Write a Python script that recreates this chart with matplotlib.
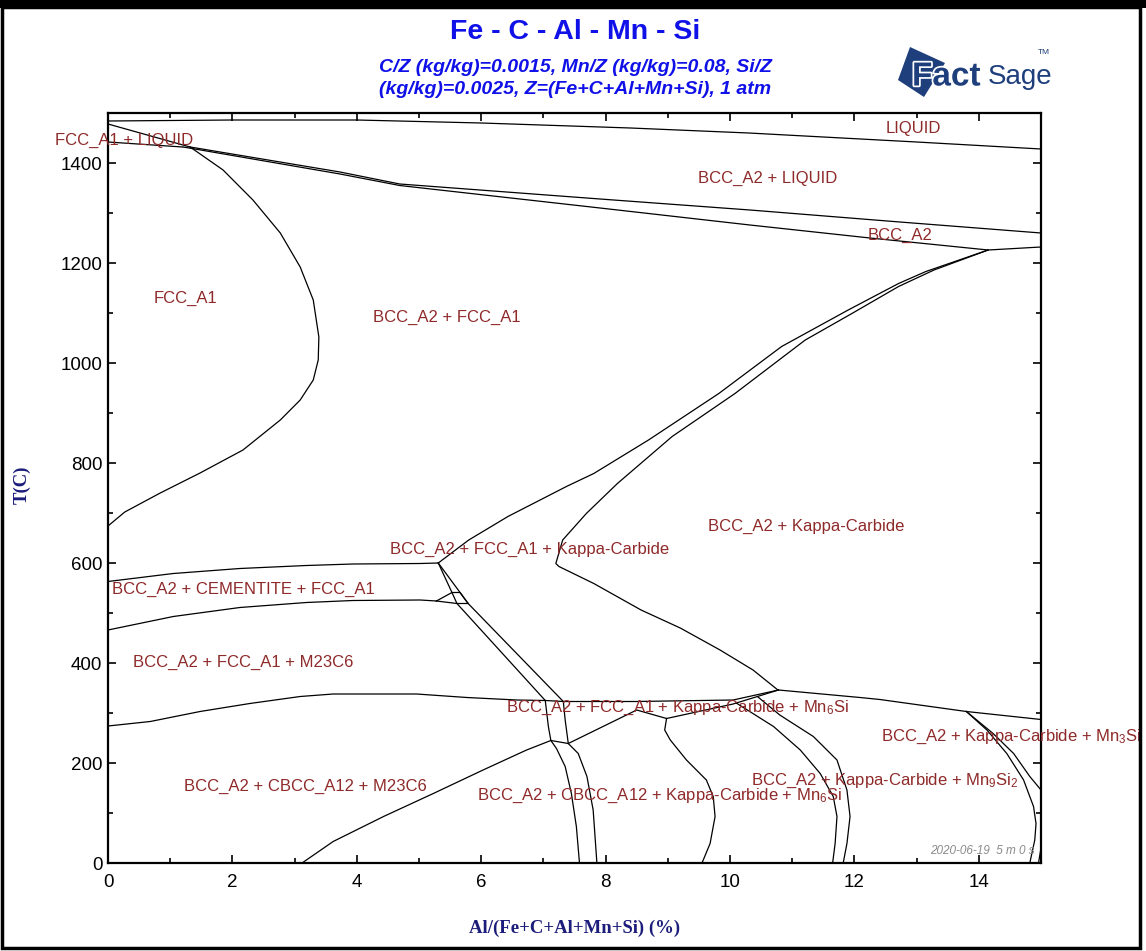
import matplotlib
matplotlib.use("Agg")
import matplotlib.pyplot as plt
from matplotlib.patches import Polygon, Rectangle
import matplotlib.patheffects as pe

plt.rcParams['font.family'] = ['Liberation Sans', 'DejaVu Sans']
plt.rcParams['mathtext.fontset'] = 'custom'
plt.rcParams['mathtext.rm'] = 'Liberation Sans'
plt.rcParams['mathtext.it'] = 'Liberation Sans:italic'
plt.rcParams['mathtext.bf'] = 'Liberation Sans:bold'

# ---------------- data (x = Al %, T = degC) ----------------
liq_x = [0, 2, 4, 6, 8.4, 10.3, 13.0, 15]
liq_T = [1484, 1486, 1486, 1480, 1470, 1460, 1442, 1428]

fcc_l_upper_x = [0, 1.32]
fcc_l_upper_T = [1478, 1432]
fcc_l_lower_x = [0, 1.2]
fcc_l_lower_T = [1442, 1432]

lineA_x = [1.32, 3.73, 4.69, 7.91, 10.32, 12.73, 15]
lineA_T = [1432, 1382, 1358, 1328, 1306, 1282, 1260]
lineB_x = [1.21, 3.73, 4.69, 7.91, 10.32, 12.25, 14.15, 15]
lineB_T = [1432, 1378, 1355, 1310, 1276, 1250, 1226, 1232]

fcc_loop_x = [1.32, 1.85, 2.33, 2.77, 3.09, 3.30, 3.39, 3.38, 3.30, 3.09, 2.77, 2.17, 1.48, 0.84, 0.27, 0]
fcc_loop_T = [1432, 1386, 1326, 1260, 1192, 1126, 1052, 1006, 966, 926, 886, 826, 780, 740, 702, 674]

kap_up_x = [14.15, 13.15, 12.71, 11.90, 10.83, 9.82, 8.69, 7.81, 7.37, 6.43, 5.80, 5.31]
kap_up_T = [1226, 1183, 1159, 1106, 1033, 939, 846, 779, 753, 693, 646, 600]
kap_lo_x = [14.15, 13.28, 12.71, 11.96, 11.21, 10.08, 9.07, 8.19, 7.69, 7.31, 7.20, 7.25, 7.81, 8.57, 9.20, 9.84, 10.37, 10.77]
kap_lo_T = [1226, 1186, 1153, 1099, 1046, 939, 853, 759, 699, 646, 599, 593, 559, 506, 470, 426, 386, 346]

cem_up_x = [0, 1.05, 2.12, 3.19, 3.94, 5.02, 5.31]
cem_up_T = [563, 579, 589, 595, 598, 599, 600]
cem_lo_x = [0, 1.05, 2.12, 3.19, 3.94, 5.02, 5.28]
cem_lo_T = [466, 493, 511, 521, 525, 526, 524]

tri_a_x = [5.28, 5.53, 5.66, 5.79]
tri_a_T = [524, 541, 541, 519]
tri_b_x = [5.28, 5.61, 5.79]
tri_b_T = [524, 519, 519]

diag_l_x = [5.31, 5.53, 5.61, 7.03, 7.08, 7.12, 7.21, 7.35, 7.45, 7.53, 7.58]
diag_l_T = [600, 541, 519, 325, 273, 245, 229, 193, 139, 73, 0]
diag_r_x = [5.31, 5.66, 5.79, 7.32, 7.35, 7.40, 7.56, 7.70, 7.80, 7.86]
diag_r_T = [600, 541, 519, 323, 286, 239, 219, 173, 106, 0]

cbcc_x = [3.12, 3.62, 4.43, 5.23, 6.03, 6.73, 7.12, 7.40]
cbcc_T = [0, 43, 93, 139, 186, 226, 245, 239]

m23_x = [0, 0.68, 1.48, 2.28, 3.09, 3.62, 4.96, 5.77, 6.57, 7.03]
m23_T = [274, 283, 303, 319, 333, 338, 338, 331, 326, 325]

mid_up_x = [7.03, 7.32, 8.50, 10.05, 10.78]
mid_up_T = [325, 323, 323, 326, 346]
mid_lo_x = [7.40, 8.50, 8.98, 10.05, 10.78]
mid_lo_T = [239, 306, 289, 318, 346]

mn6_x = [8.98, 8.95, 9.04, 9.30, 9.62, 9.73, 9.76, 9.68, 9.55]
mn6_T = [289, 266, 246, 206, 166, 133, 93, 39, 0]

mn9a_x = [10.10, 10.70, 11.13, 11.45, 11.66, 11.72, 11.69, 11.65]
mn9a_T = [320, 273, 226, 179, 133, 93, 39, 0]
mn9b_x = [10.45, 10.80, 11.34, 11.72, 11.88, 11.93, 11.88, 11.82]
mn9b_T = [332, 296, 253, 206, 146, 93, 39, 0]

right_x = [10.78, 12.09, 12.41, 13.80, 15]
right_T = [346, 331, 327, 303, 287]
r1_x = [13.80, 14.13, 14.45, 14.72, 14.88, 14.92, 14.90, 14.82]
r1_T = [303, 266, 219, 166, 113, 79, 46, 0]
r2_x = [13.80, 14.23, 14.56, 14.82, 15.0]
r2_T = [303, 259, 219, 173, 146]
r3_x = [15.0, 14.96]
r3_T = [30, 0]

curves = [
    (liq_x, liq_T), (fcc_l_upper_x, fcc_l_upper_T), (fcc_l_lower_x, fcc_l_lower_T),
    (lineA_x, lineA_T), (lineB_x, lineB_T), (fcc_loop_x, fcc_loop_T),
    (kap_up_x, kap_up_T), (kap_lo_x, kap_lo_T), (cem_up_x, cem_up_T), (cem_lo_x, cem_lo_T),
    (tri_a_x, tri_a_T), (tri_b_x, tri_b_T), (diag_l_x, diag_l_T), (diag_r_x, diag_r_T),
    (cbcc_x, cbcc_T), (m23_x, m23_T), (mid_up_x, mid_up_T), (mid_lo_x, mid_lo_T),
    (mn6_x, mn6_T), (mn9a_x, mn9a_T), (mn9b_x, mn9b_T), (right_x, right_T),
    (r1_x, r1_T), (r2_x, r2_T), (r3_x, r3_T),
]

label_texts = [
    "LIQUID", "FCC_A1 + LIQUID", "BCC_A2 + LIQUID", "BCC_A2", "FCC_A1", "BCC_A2 + FCC_A1",
    "BCC_A2 + Kappa-Carbide", "BCC_A2 + FCC_A1 + Kappa-Carbide", "BCC_A2 + CEMENTITE + FCC_A1",
    "BCC_A2 + FCC_A1 + M23C6", r"BCC_A2 + FCC_A1 + Kappa-Carbide + Mn$_\mathregular{6}$Si",
    r"BCC_A2 + Kappa-Carbide + Mn$_\mathregular{3}$Si", "BCC_A2 + CBCC_A12 + M23C6",
    r"BCC_A2 + CBCC_A12 + Kappa-Carbide + Mn$_\mathregular{6}$Si",
    r"BCC_A2 + Kappa-Carbide + Mn$_\mathregular{9}$Si$_\mathregular{2}$",
]
label_x = [12.94, 0.26, 10.61, 12.73, 1.25, 5.45, 11.22, 6.78, 2.17, 2.17, 9.16, 14.52, 3.18, 8.87, 12.49]
label_T = [1468, 1446, 1370, 1256, 1130, 1092, 674, 628, 548, 402, 310, 252, 154, 134, 164]

x_ticks = [0, 2, 4, 6, 8, 10, 12, 14]
y_ticks = [0, 200, 400, 600, 800, 1000, 1200, 1400]

# ---------------- figure ----------------
W, H = 1146, 951
fig = plt.figure(figsize=(W / 100, H / 100), dpi=100)
ax = fig.add_axes([108 / W, 1 - 863 / H, (1041 - 108) / W, (863 - 113) / H])

for cx, cy in curves:
    ax.plot(cx, cy, color='black', lw=0.9)

lab_color = '#8f2a2a'
for t, lx, ly in zip(label_texts, label_x, label_T):
    ax.text(lx, ly, t, color=lab_color, fontsize=12, ha='center', va='center', clip_on=False)

ax.set_xlim(0, 15)
ax.set_ylim(0, 1500)
ax.set_xticks(x_ticks)
ax.set_yticks(y_ticks)
ax.set_xticks(range(0, 16), minor=True)
ax.set_yticks(range(0, 1501, 100), minor=True)
ax.tick_params(which='both', direction='in', top=True, right=True, width=1.2, labelsize=13.5)
ax.tick_params(which='major', length=6, pad=8)
ax.tick_params(which='minor', length=3.5)
ax.tick_params(axis='y', pad=4)
for s in ax.spines.values():
    s.set_linewidth(1.6)

navy = '#1c1c7a'
fig.text(575 / W, 1 - 928 / H, "Al/(Fe+C+Al+Mn+Si) (%)", ha='center', va='center',
         fontsize=13.5, fontweight='bold', color=navy, family=['Liberation Serif', 'DejaVu Serif'])
fig.text(22 / W, 1 - 485 / H, "T(C)", ha='center', va='center', rotation=90,
         fontsize=13.5, fontweight='bold', color=navy, family=['Liberation Serif', 'DejaVu Serif'])

blue = '#1010e8'
fig.text(575 / W, 1 - 32 / H, "Fe - C - Al - Mn - Si", ha='center', va='center',
         fontsize=20.5, fontweight='bold', color=blue)
fig.text(575 / W, 1 - 68 / H, "C/Z (kg/kg)=0.0015, Mn/Z (kg/kg)=0.08, Si/Z", ha='center', va='center',
         fontsize=14, fontweight='bold', style='italic', color=blue)
fig.text(575 / W, 1 - 90 / H, "(kg/kg)=0.0025, Z=(Fe+C+Al+Mn+Si), 1 atm", ha='center', va='center',
         fontsize=14, fontweight='bold', style='italic', color=blue)

fig.text(1035 / W, 1 - 851 / H, "2020-06-19  5 m 0 s", ha='right', va='center',
         fontsize=8.5, style='italic', color='#8a8a8a')

# FactSage logo
logo = '#1f3f7c'
diamond = [(910 / W, 1 - 47 / H), (945 / W, 1 - 63 / H), (924 / W, 1 - 97 / H), (898 / W, 1 - 80 / H)]
fig.patches.append(Polygon(diamond, closed=True, transform=fig.transFigure, facecolor=logo,
                           edgecolor='none', figure=fig))
fig.text(912 / W, 1 - 77 / H, "Fact", ha='left', va='center', fontsize=24, fontweight='bold',
         color=logo, path_effects=[pe.withStroke(linewidth=2.5, foreground='white')])
fig.text(988 / W, 1 - 77 / H, "Sage", ha='left', va='center', fontsize=20, color=logo)
fig.text(1038 / W, 1 - 52 / H, "TM", ha='left', va='center', fontsize=6, color=logo)

# outer frame
fig.patches.append(Rectangle((0.002, 0.003), 0.993, 0.99, transform=fig.transFigure, fill=False,
                             edgecolor='black', lw=2.5, figure=fig))
fig.patches.append(Rectangle((0, 0.992), 1, 0.008, transform=fig.transFigure, facecolor='black',
                             edgecolor='none', figure=fig))

fig.savefig("out.png", dpi=100)
